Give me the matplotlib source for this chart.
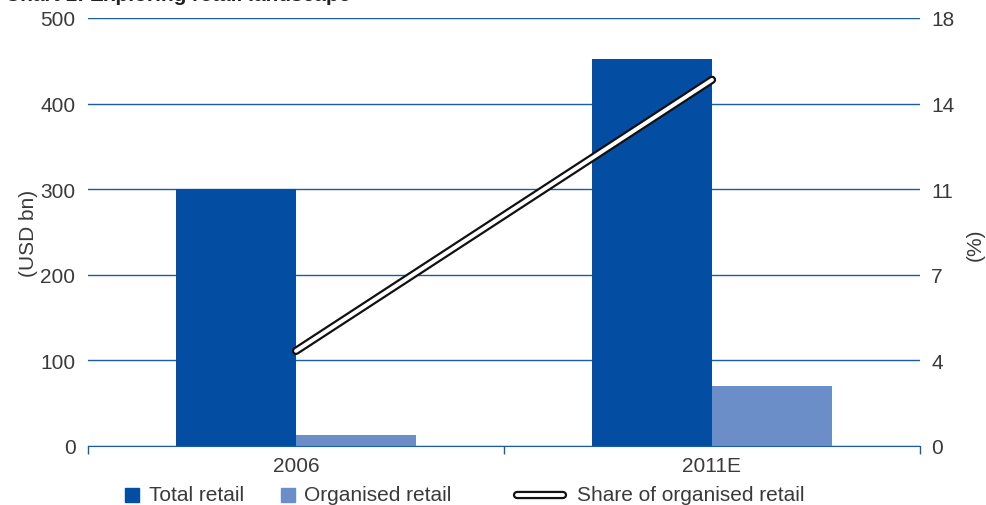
import matplotlib.pyplot as plt
import matplotlib.patheffects as pe
from matplotlib.patches import Rectangle
from matplotlib.lines import Line2D
import numpy as np

plt.rcParams['font.family'] = ['Liberation Sans', 'DejaVu Sans']

years = ["2006", "2011E"]
total_retail = [300, 452]
organised_retail = [13, 70]
organised_share = [4.0, 15.4]
pct_ticks = [0, 4, 7, 11, 14, 18]
legend_labels = ["Total retail", "Organised retail", "Share of organised retail"]

dark_blue = "#034ea2"
light_blue = "#6b8ec9"
grid_blue = "#1c5bab"
text_col = "#3a3a3a"
fs = 15

W, H = 987, 506
fig = plt.figure(figsize=(W / 100, H / 100), dpi=100)
ax = fig.add_axes([88 / W, 59 / H, 832 / W, 428 / H])
ax2 = ax.twinx()

x = np.arange(len(years))
w = 0.288
ax.bar(x - w / 2, total_retail, width=w, color=dark_blue, zorder=2)
ax.bar(x + w / 2, organised_retail, width=w, color=light_blue, zorder=2)

ax.set_xlim(-0.5, 1.5)
ax.set_ylim(0, 500)
ax.set_yticks([0, 100, 200, 300, 400, 500])
ax.yaxis.grid(True, color=grid_blue, lw=1.0, zorder=0)
ax.set_axisbelow(True)
ax.set_xticks(x)
ax.set_xticklabels(years)
ax.set_xticks([-0.5, 0.5, 1.5], minor=True)
ax.tick_params(axis='x', which='major', length=0, pad=7, labelsize=fs, labelcolor=text_col)
ax.tick_params(axis='x', which='minor', length=6, color=grid_blue, width=1)
ax.tick_params(axis='y', length=0, pad=9, labelsize=fs, labelcolor=text_col)
for s in ['top', 'left', 'right']:
    ax.spines[s].set_visible(False)
    ax2.spines[s].set_visible(False)
ax.spines['bottom'].set_color(grid_blue)
ax2.spines['bottom'].set_visible(False)
ax.set_ylabel("(USD bn)", fontsize=fs, color=text_col, labelpad=2)

# right axis: share of organised retail, gridlines shared with the left scale
ax2.set_ylim(0, 18)
ax2.set_yticks(np.linspace(0, 18, 6))
ax2.set_yticklabels([str(t) for t in pct_ticks])
ax2.tick_params(axis='y', length=0, pad=8, labelsize=fs, labelcolor=text_col)
fig.text(975 / W, 1 - 245 / H, "(%)", fontsize=fs, color=text_col, rotation=90,
         ha='center', va='center')

outline = [pe.Stroke(linewidth=6, foreground="#111111", capstyle='round'), pe.Normal()]
ax2.plot(x, organised_share, color="white", lw=2.8, solid_capstyle='round', zorder=5,
         path_effects=outline)

# legend row along the bottom edge, laid out in figure pixels
ly = 10 / H
fig.patches.append(Rectangle((125 / W, ly - 7 / H), 14 / W, 14 / H, color=dark_blue,
                             transform=fig.transFigure, figure=fig))
fig.text(149 / W, ly, legend_labels[0], fontsize=fs, color=text_col, va='center', ha='left')
fig.patches.append(Rectangle((281 / W, ly - 7 / H), 14 / W, 14 / H, color=light_blue,
                             transform=fig.transFigure, figure=fig))
fig.text(304 / W, ly, legend_labels[1], fontsize=fs, color=text_col, va='center', ha='left')
fig.lines.append(Line2D([517 / W, 563 / W], [ly, ly], color="white", lw=2.8, solid_capstyle='round',
                        path_effects=outline, transform=fig.transFigure, figure=fig))
fig.text(577 / W, ly, legend_labels[2], fontsize=fs, color=text_col, va='center', ha='left')

fig.text(0.005, 1 - 1 / H, "Chart 1: Exploring retail landscape", fontsize=15, fontweight='bold',
         color="#222222", va='baseline', ha='left')

fig.savefig("out.png", dpi=100)
